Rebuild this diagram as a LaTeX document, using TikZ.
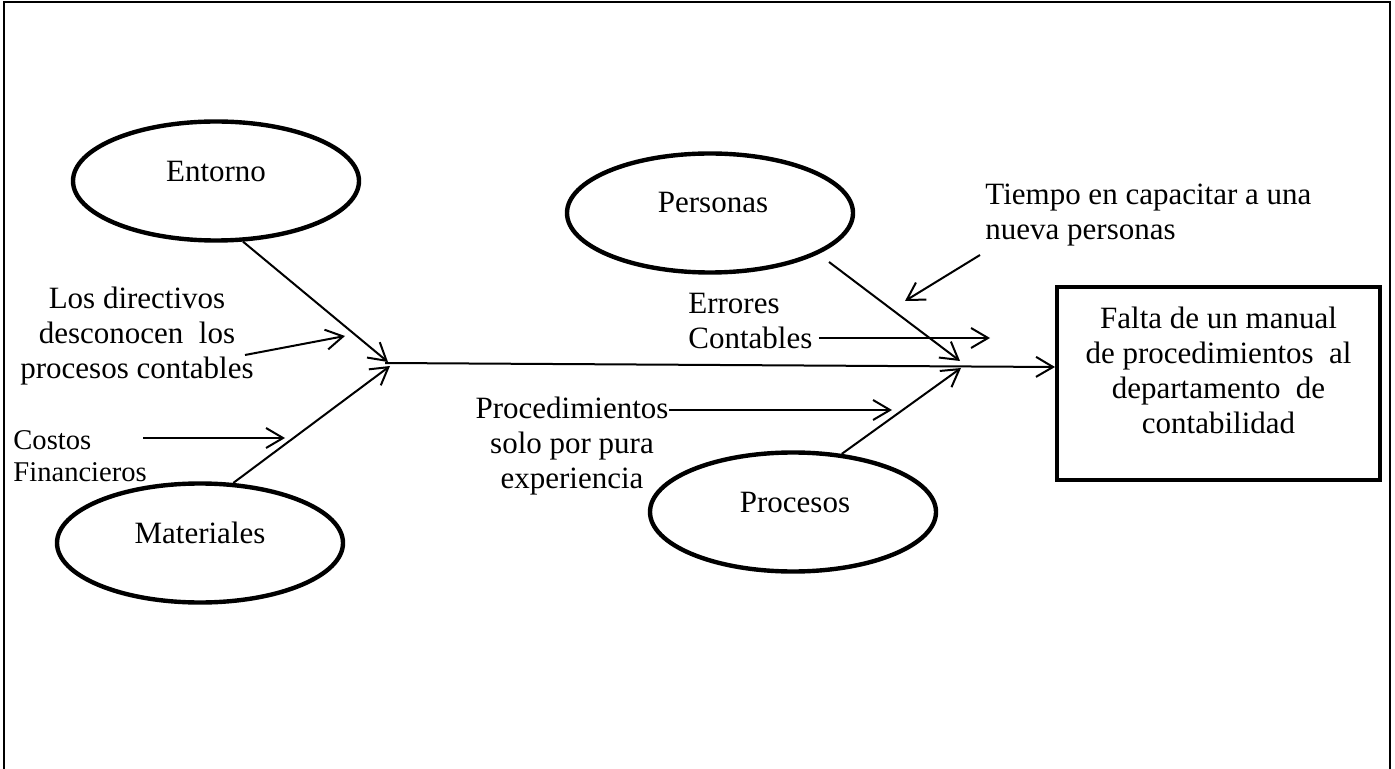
\documentclass[tikz,border=0pt]{standalone}
\usepackage{fontspec}
\setmainfont{Liberation Serif}
\usetikzlibrary{arrows.meta,shapes.geometric}

\begin{document}
\begin{tikzpicture}[x=0.5pt,y=-0.5pt,
  cause/.style={draw,ellipse,line width=2.2pt,minimum width=143pt,minimum height=59.5pt,inner sep=0pt},
  effect/.style={draw,rectangle,line width=2pt,minimum width=161.5pt,minimum height=96.5pt,inner sep=0pt},
  txt/.style={inner sep=0pt,font=\fontsize{15.5}{17.5}\selectfont},
  smalltxt/.style={inner sep=0pt,font=\fontsize{14.3}{16}\selectfont},
  arr/.style={line width=1pt,-{Straight Barb[length=8.5pt,width=10pt,line width=1pt]}},
  bone/.style={line width=1pt}]
\useasboundingbox (0,0) rectangle (1395,769);

% open frame (no bottom edge)
\draw[line width=1.2pt] (4,769) -- (4,2) -- (1390,2) -- (1390,769);

% cause categories
\node[cause] (entorno) at (216,181) {};
\node[txt] (entornoT) at (216,172) {Entorno};
\node[cause] (materiales) at (200,543) {};
\node[txt] (materialesT) at (200,533) {Materiales};
\node[cause] (personas) at (710,213) {};
\node[txt] (personasT) at (713,203) {Personas};
\node[cause] (procesos) at (793,512) {};
\node[txt] (procesosT) at (795,503) {Procesos};

% effect
\node[effect] (efecto) at (1218.5,383.5) {};
\node[txt,align=center] (efectoT) at (1218.5,370) {Falta de un manual\\de procedimientos\ \ al\\departamento\ \ de\\contabilidad};

% spine
\coordinate (cola) at (385,363);
\draw[arr] (cola) -- (efecto.west |- 0,367);

% bones
\coordinate (entornoFin) at (388,362);
\coordinate (materialesFin) at (390,366);
\draw[arr] (entorno.-66) -- (entornoFin);
\draw[arr] (materiales.61) -- (materialesFin);

\coordinate (personasIni) at (829,262);
\coordinate (personasFin) at (960,361);
\draw[arr] (personasIni) -- (personasFin);
\coordinate (procesosFin) at (961,368);
\draw[arr] (procesos.50) -- (procesosFin);

% sub-causes
\node[txt,align=center] (directivos) at (137,336) {Los directivos\\desconocen\ \ los\\procesos contables};
\coordinate (directivosIni) at (245,355);
\coordinate (directivosFin) at (345,336);
\draw[arr] (directivosIni) -- (directivosFin);

\node[smalltxt,align=left,anchor=west] (costos) at (13,456) {Costos\\Financieros};
\coordinate (costosIni) at (143,438);
\coordinate (costosFin) at (285,438);
\draw[arr] (costosIni) -- (costosFin);

\node[txt,align=left,anchor=west] (tiempo) at (985,215) {Tiempo en capacitar a una\\nueva personas};
\coordinate (tiempoIni) at (980,255);
\coordinate (tiempoFin) at (905,301);
\draw[arr] (tiempoIni) -- (tiempoFin);

\node[txt,align=left,anchor=west] (errores) at (688,321) {Errores\\Contables};
\coordinate (erroresFin) at (990,338);
\draw[arr] (errores.east |- 0,338) ++(6,0) -- (erroresFin);

\node[txt,align=center] (procedimientos) at (572,446) {Procedimientos\\solo por pura\\experiencia};
\coordinate (procedimientosFin) at (892,410);
\draw[arr] (procedimientos.north east |- 0,410) -- (procedimientosFin);
\end{tikzpicture}
\end{document}
